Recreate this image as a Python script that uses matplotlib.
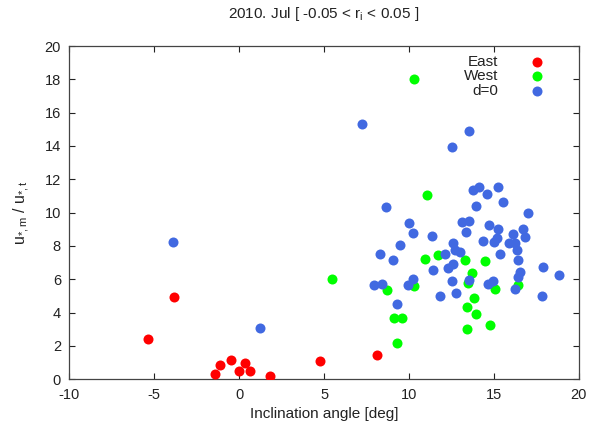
import matplotlib
matplotlib.use("Agg")
import matplotlib.pyplot as plt

plt.rcParams['font.family'] = ['Liberation Sans', 'DejaVu Sans']
plt.rcParams['mathtext.fontset'] = 'custom'
plt.rcParams['mathtext.rm'] = 'Liberation Sans'
plt.rcParams['mathtext.it'] = 'Liberation Sans'
plt.rcParams['axes.unicode_minus'] = False

# Inclination angle [deg] and friction-velocity ratio for each group
east_x = [-5.38, -3.83, -1.42, -1.11, -0.46, 0.0, 0.33, 0.62, 1.80, 4.76, 8.10]
east_y = [2.44, 4.92, 0.34, 0.88, 1.18, 0.48, 0.98, 0.48, 0.22, 1.12, 1.44]

west_x = [10.32, 11.07, 5.45, 8.71, 9.10, 9.59, 9.30, 10.95, 11.73, 13.30, 14.48,
          13.70, 10.30, 13.50, 15.07, 16.44, 13.80, 13.40, 13.95, 14.78, 13.40]
west_y = [18.03, 11.07, 6.02, 5.34, 3.70, 3.70, 2.16, 7.22, 7.46, 7.16, 7.12,
          6.40, 5.62, 5.76, 5.40, 5.66, 4.86, 4.36, 3.92, 3.26, 3.00]

d0_x = [-3.87, 1.23, 7.26, 8.67, 10.00, 10.26, 9.45, 8.32, 9.06, 7.96, 8.42,
        9.95, 10.26, 9.32, 13.52, 12.56, 13.76, 14.15, 14.60, 15.27, 15.54,
        13.97, 17.00, 11.33, 13.11, 13.54, 13.35, 14.72, 15.27, 14.36, 15.17,
        15.03, 16.14, 16.72, 16.83, 15.91, 16.25, 12.57, 16.38, 12.72, 13.00,
        12.12, 15.36, 16.44, 17.92, 18.86, 12.58, 12.32, 11.44, 16.54, 16.44,
        12.52, 13.56, 14.68, 14.94, 16.25, 17.82, 11.83, 12.77]
d0_y = [8.22, 3.08, 15.32, 10.35, 9.36, 8.76, 8.04, 7.54, 7.18, 5.68, 5.70,
        5.64, 6.04, 4.50, 14.90, 13.94, 11.36, 11.52, 11.10, 11.55, 10.64,
        10.38, 9.96, 8.59, 9.46, 9.52, 8.83, 9.25, 9.01, 8.31, 8.46,
        8.26, 8.74, 9.00, 8.52, 8.20, 8.20, 8.16, 7.76, 7.76, 7.66,
        7.52, 7.52, 7.16, 6.76, 6.24, 6.90, 6.66, 6.56, 6.42, 6.12,
        5.90, 5.96, 5.72, 5.92, 5.40, 5.00, 5.00, 5.20]

fig = plt.figure(figsize=(5.9, 4.26), dpi=100)
ax = fig.add_axes([0.1175, 0.1096, 0.8635, 0.7824])

msize = 52
ax.scatter(east_x, east_y, s=msize, c='#ff0000', linewidths=0, label='East', zorder=3)
ax.scatter(west_x, west_y, s=msize, c='#00ff00', linewidths=0, label='West', zorder=2)
ax.scatter(d0_x, d0_y, s=msize, c='#4169e1', linewidths=0, label='d=0', zorder=2.5)

ax.set_xlim(-10, 20)
ax.set_ylim(0, 20)
ax.set_xticks([-10, -5, 0, 5, 10, 15, 20])
ax.set_yticks(range(0, 21, 2))
ax.tick_params(direction='in', top=True, right=True, length=4, width=0.8,
               labelsize=10.5, colors='#222222', pad=6)
for sp in ax.spines.values():
    sp.set_color('#444444')
    sp.set_linewidth(0.9)

ax.set_xlabel('Inclination angle [deg]', fontsize=11, color='#222222', labelpad=4)
ax.set_ylabel(r'u$_{*,m}$ / u$_{*,t}$', fontsize=11.5, color='#222222', labelpad=9)
ax.set_title(r'2010. Jul [ -0.05 < r$_{\mathrm{i}}$ < 0.05 ]', fontsize=11,
             color='#222222', pad=20)

leg = ax.legend(loc='upper right', frameon=False, markerfirst=False, fontsize=11,
                handletextpad=1.5, labelspacing=0.02, borderaxespad=0.2,
                bbox_to_anchor=(0.965, 1.0))
for t in leg.get_texts():
    t.set_ha('right')
    t.set_color('#222222')

fig.savefig('out.png', dpi=100)
